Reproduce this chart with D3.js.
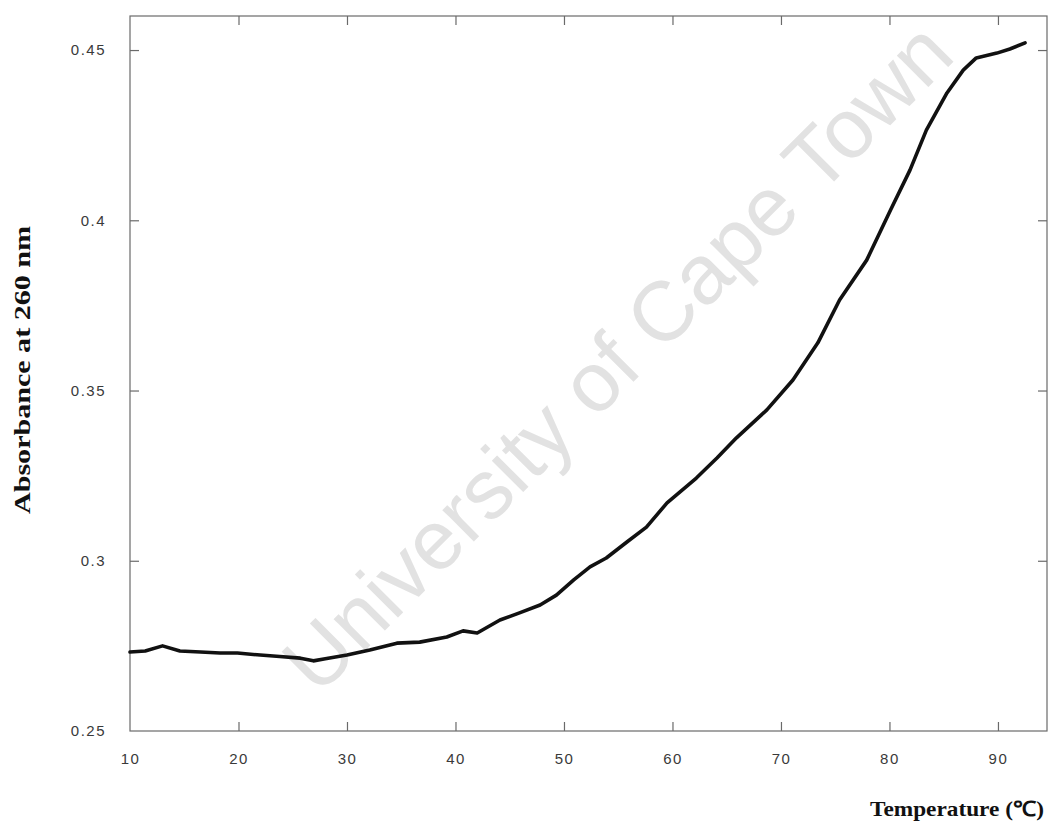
<!DOCTYPE html>
<html>
<head>
<meta charset="utf-8">
<script src="https://cdn.jsdelivr.net/npm/d3@7"></script>
<style>
  html, body { margin: 0; padding: 0; background: #fff; }
  svg { display: block; }
</style>
</head>
<body>
<svg id="chart" width="1048" height="823"></svg>
<script>
// ---- data ----
const temperature = [10.0, 11.4, 13.0, 14.6, 16.5, 18.3, 19.9, 22.0, 23.8, 25.7, 26.9, 28.0, 30.0, 32.1, 34.6, 36.7, 39.2, 40.7, 42.0, 44.1, 45.9, 47.8, 49.3, 50.9, 52.4, 53.9, 55.8, 57.6, 59.5, 62.2, 64.1, 65.9, 68.7, 71.1, 73.4, 75.4, 77.9, 80.1, 81.9, 83.4, 85.3, 86.8, 88.0, 89.9, 91.1, 92.5];
const absorbance = [0.2732, 0.2735, 0.2750, 0.2735, 0.2732, 0.2729, 0.2729, 0.2723, 0.2719, 0.2714, 0.2706, 0.2712, 0.2723, 0.2738, 0.2758, 0.2761, 0.2776, 0.2794, 0.2788, 0.2826, 0.2847, 0.2870, 0.2899, 0.2944, 0.2982, 0.3008, 0.3055, 0.3099, 0.3170, 0.3243, 0.3302, 0.3361, 0.3443, 0.3531, 0.3640, 0.3766, 0.3883, 0.4030, 0.4148, 0.4265, 0.4374, 0.4441, 0.4477, 0.4491, 0.4503, 0.4521];
const xTicks = [10, 20, 30, 40, 50, 60, 70, 80, 90];
const yTicks = [0.25, 0.3, 0.35, 0.4, 0.45];
const yTickLabels = ["0.25", "0.3", "0.35", "0.4", "0.45"];
const xTitle = "Temperature (\u2103)";
const yTitle = "Absorbance at 260 nm";
const watermark = "University of Cape Town";

// ---- layout ----
const svg = d3.select("#chart");
const mLeft = 130, mRight = 1047, mTop = 16, mBottom = 731;

const x = d3.scaleLinear().domain([10, 94.52]).range([mLeft, mRight]);
const y = d3.scaleLinear().domain([0.25, 0.46]).range([mBottom, mTop]);

// watermark
svg.append("text")
  .attr("transform", "translate(622,362) rotate(-45)")
  .attr("text-anchor", "middle")
  .attr("dominant-baseline", "middle")
  .attr("font-family", "Liberation Sans, Arial, sans-serif")
  .attr("font-size", 84)
  .attr("fill", "#e2e2e2")
  .text(watermark);

const axisColor = "#6a6a6a";
const tickLen = 9;

// frame
svg.append("rect")
  .attr("x", mLeft).attr("y", mTop)
  .attr("width", mRight - mLeft).attr("height", mBottom - mTop)
  .attr("fill", "none").attr("stroke", axisColor).attr("stroke-width", 1.2);

// axes with inward ticks
const gB = svg.append("g").attr("transform", `translate(0,${mBottom})`)
  .call(d3.axisBottom(x).tickValues(xTicks).tickSize(-tickLen).tickPadding(22).tickFormat(d3.format("d")));
const gT = svg.append("g").attr("transform", `translate(0,${mTop})`)
  .call(d3.axisTop(x).tickValues(xTicks).tickSize(-tickLen).tickFormat(""));
const gL = svg.append("g").attr("transform", `translate(${mLeft},0)`)
  .call(d3.axisLeft(y).tickValues(yTicks).tickSize(-tickLen).tickPadding(24)
    .tickFormat((d, i) => yTickLabels[i]));
const gR = svg.append("g").attr("transform", `translate(${mRight},0)`)
  .call(d3.axisRight(y).tickValues(yTicks).tickSize(-tickLen).tickFormat(""));

[gB, gT, gL, gR].forEach(g => {
  g.select(".domain").remove();
  g.selectAll(".tick line").attr("stroke", axisColor).attr("stroke-width", 1.2);
  g.selectAll(".tick text")
    .attr("font-family", "Liberation Sans, Arial, sans-serif")
    .attr("font-size", 15)
    .attr("letter-spacing", "1.5px")
    .attr("fill", "#3a3a3a");
});
// drop edge ticks that coincide with the frame
gB.selectAll(".tick").filter(d => d === 10).select("line").remove();
gT.selectAll(".tick").filter(d => d === 10).select("line").remove();
gL.selectAll(".tick").filter(d => d === 0.25).select("line").remove();
gR.selectAll(".tick").filter(d => d === 0.25).select("line").remove();

// data line
const line = d3.line()
  .x((d, i) => x(temperature[i]))
  .y((d, i) => y(absorbance[i]));
svg.append("path")
  .datum(absorbance)
  .attr("d", line)
  .attr("fill", "none")
  .attr("stroke", "#111")
  .attr("stroke-width", 3.6)
  .attr("stroke-linejoin", "round")
  .attr("stroke-linecap", "round");

// axis titles
svg.append("text")
  .attr("transform", "translate(30,370) rotate(-90)")
  .attr("text-anchor", "middle")
  .attr("font-family", "Liberation Serif, Times New Roman, serif")
  .attr("font-weight", "bold")
  .attr("font-size", 24)
  .attr("textLength", 288)
  .attr("lengthAdjust", "spacingAndGlyphs")
  .attr("fill", "#111")
  .text(yTitle);

svg.append("text")
  .attr("x", 870).attr("y", 816)
  .attr("font-family", "Liberation Serif, Times New Roman, serif")
  .attr("font-weight", "bold")
  .attr("font-size", 21)
  .attr("textLength", 174)
  .attr("lengthAdjust", "spacingAndGlyphs")
  .attr("fill", "#111")
  .text(xTitle);
</script>
</body>
</html>
